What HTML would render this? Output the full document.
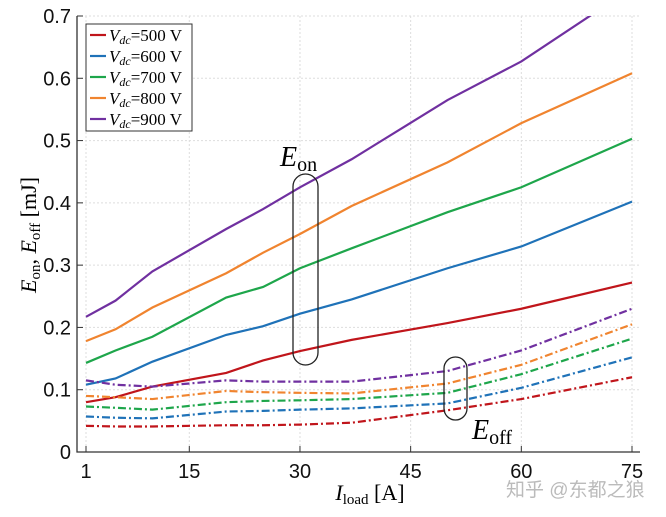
<!DOCTYPE html>
<html><head><meta charset="utf-8"><style>
body{margin:0;background:#fff;}
svg{display:block;font-family:"Liberation Sans",sans-serif;}
.serif{font-family:"Liberation Serif",serif;}
</style></head><body>
<svg id="chart" width="666" height="517">
<g id="grid"></g>
<g id="plot"></g>
<g id="axes"></g>
<rect x="293" y="174" width="25" height="191" rx="12.5" fill="none" stroke="#222" stroke-width="1.3"/>
<text class="serif" x="280" y="166" font-size="28" font-style="italic">E<tspan font-style="normal" font-size="20" dy="5">on</tspan></text>
<rect x="444" y="357" width="23" height="63" rx="11.5" fill="none" stroke="#222" stroke-width="1.3"/>
<text class="serif" x="472" y="439" font-size="28" font-style="italic">E<tspan font-style="normal" font-size="20" dy="5">off</tspan></text>
<g>
<rect x="86" y="24" width="106" height="107" fill="#fff" stroke="#333" stroke-width="1"/>
<g id="legend-items"></g>
</g>
<text class="serif" x="370" y="500" font-size="22" text-anchor="middle"><tspan font-style="italic">I</tspan><tspan font-size="15" dy="4">load</tspan><tspan dy="-4"> [A]</tspan></text>
<text class="serif" transform="translate(36,235) rotate(-90)" font-size="22" text-anchor="middle"><tspan font-style="italic">E</tspan><tspan font-size="15" dy="4">on</tspan><tspan dy="-4">, </tspan><tspan font-style="italic">E</tspan><tspan font-size="15" dy="4">off</tspan><tspan dy="-4"> [mJ]</tspan></text>
<text x="506" y="496" font-size="19" fill="#bbb" font-family="'Liberation Sans','Noto Sans CJK SC',sans-serif">知乎 @东都之狼</text>
</svg>
<script>
const xVals=[1,5,10,20,25,30,37,50,60,75];
const labels=["500","600","700","800","900"];
const colors=["#c0151b","#1f72b8","#1ea64b","#f0842f","#7030a0"];
const eon500=[0.08,0.088,0.105,0.127,0.147,0.162,0.18,0.207,0.23,0.272];
const eon600=[0.108,0.118,0.145,0.188,0.202,0.222,0.245,0.295,0.33,0.402];
const eon700=[0.143,0.163,0.185,0.248,0.265,0.295,0.327,0.385,0.425,0.503];
const eon800=[0.178,0.197,0.232,0.287,0.32,0.35,0.395,0.465,0.528,0.608];
const eon900=[0.217,0.243,0.29,0.358,0.39,0.425,0.47,0.565,0.627,0.745];
const eoff500=[0.042,0.041,0.041,0.043,0.043,0.044,0.047,0.067,0.085,0.12];
const eoff600=[0.057,0.055,0.054,0.065,0.066,0.068,0.07,0.078,0.103,0.152];
const eoff700=[0.073,0.071,0.068,0.08,0.082,0.083,0.085,0.095,0.125,0.182];
const eoff800=[0.09,0.088,0.085,0.098,0.096,0.095,0.094,0.11,0.14,0.205];
const eoff900=[0.115,0.108,0.105,0.115,0.113,0.113,0.113,0.13,0.163,0.23];
const xTicks=[1,15,30,45,60,75];
const yTicks=[0,0.1,0.2,0.3,0.4,0.5,0.6,0.7];
const NS="http://www.w3.org/2000/svg";
const X=v=>86+(v-1)*(632-86)/74;
const Y=v=>452-v*(452-16)/0.7;
function mk(tag,at,parent){const e=document.createElementNS(NS,tag);for(const k in at)e.setAttribute(k,at[k]);parent.appendChild(e);return e;}
const grid=document.getElementById('grid'),plot=document.getElementById('plot'),axes=document.getElementById('axes');
xTicks.forEach(t=>{
 const g=mk('line',{x1:X(t),x2:X(t),y1:16,y2:452,stroke:'#ddd','stroke-dasharray':'2,2'},grid);
 
 
 const tk=mk('line',{x1:X(t),x2:X(t),y1:452,y2:446,stroke:'#333'},axes);
 
 
 const tx=mk('text',{x:X(t),y:478,'font-size':20,'text-anchor':'middle',fill:'#111'},axes);
 tx.textContent=t;
 
 
});
yTicks.forEach(t=>{
 const g=mk('line',{x1:77,x2:640,y1:Y(t),y2:Y(t),stroke:'#ddd','stroke-dasharray':'2,2'},grid);
 
 
 const tk=mk('line',{x1:77,x2:83,y1:Y(t),y2:Y(t),stroke:'#333'},axes);
 
 
 const tx=mk('text',{x:71,y:Y(t)+7,'font-size':20,'text-anchor':'end',fill:'#111'},axes);
 tx.textContent=t===0?'0':t.toFixed(1);
 
 
});
const al=mk('path',{d:'M77,16 V452 H640',fill:'none',stroke:'#333','stroke-width':1.3},axes);


const clip=mk('clipPath',{id:'c'},document.getElementById('chart'));
mk('rect',{x:77,y:16,width:563,height:436},clip);
plot.setAttribute('clip-path','url(#c)');
const eon=[eon500,eon600,eon700,eon800,eon900],eoff=[eoff500,eoff600,eoff700,eoff800,eoff900];
function pts(a){return a.map((v,i)=>X(xVals[i])+','+Y(v)).join(' ');}
for(let i=0;i<5;i++){
 const l=mk('polyline',{points:pts(eoff[i]),fill:'none',stroke:colors[i],'stroke-width':2.2,'stroke-dasharray':'8,3,2,3'},plot);
 
 
 const m=mk('polyline',{points:pts(eon[i]),fill:'none',stroke:colors[i],'stroke-width':2.2},plot);
 
 
}
const li=document.getElementById('legend-items');
labels.forEach((lb,i)=>{
 const y=35+i*21;
 const l=mk('line',{x1:90,x2:106,y1:y,y2:y,stroke:colors[i],'stroke-width':2.2},li);
 
 
 const t=mk('text',{x:109,y:y+6,'font-size':17,'font-family':'Liberation Serif,serif'},li);
 t.innerHTML='<tspan font-style="italic">V</tspan><tspan font-style="italic" font-size="12" dy="3">dc</tspan><tspan dy="-3">='+lb+' V</tspan>';
 
 
});
</script>
</body></html>
